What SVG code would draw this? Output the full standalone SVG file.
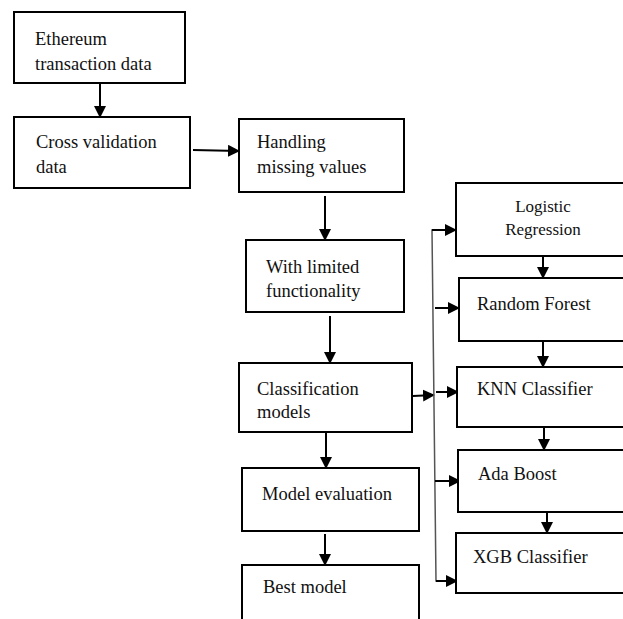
<svg xmlns="http://www.w3.org/2000/svg" width="623" height="619" viewBox="0 0 623 619">
<style>
.box{fill:#fff;stroke:#000;stroke-width:2}
.t{font-family:"Liberation Serif","Times New Roman",serif;font-size:18.5px;fill:#111}
.ts{font-family:"Liberation Serif","Times New Roman",serif;font-size:17px;fill:#111}
.c{stroke:#000;stroke-width:2;fill:none}
.v{stroke:#555;stroke-width:1.5;fill:none}
</style>
<defs>
<marker id="ah" markerUnits="userSpaceOnUse" markerWidth="12" markerHeight="12" refX="11" refY="6" orient="auto">
<path d="M0,0 L12,6 L0,12 z" fill="#000"/>
</marker>
</defs>
<rect width="623" height="619" fill="#fff"/>
<g id="connectors">
<line class="c" x1="100" y1="84" x2="100" y2="117" marker-end="url(#ah)"/>
<line class="c" x1="193" y1="150" x2="239" y2="151" marker-end="url(#ah)"/>
<line class="c" x1="325" y1="196" x2="325" y2="240" marker-end="url(#ah)"/>
<line class="c" x1="330" y1="316" x2="330" y2="363" marker-end="url(#ah)"/>
<line class="c" x1="326" y1="433" x2="326" y2="468" marker-end="url(#ah)"/>
<line class="c" x1="325" y1="534" x2="325" y2="565" marker-end="url(#ah)"/>
<line class="c" x1="413" y1="396" x2="434" y2="395" marker-end="url(#ah)"/>
<polyline class="v" points="456,230 432,230 436,581 457,581"/>
<line class="c" x1="432" y1="230" x2="456" y2="230" marker-end="url(#ah)"/>
<line class="c" x1="435" y1="308" x2="459" y2="308" marker-end="url(#ah)"/>
<line class="c" x1="436" y1="392" x2="458" y2="392" marker-end="url(#ah)"/>
<line class="c" x1="435" y1="481" x2="460" y2="481" marker-end="url(#ah)"/>
<line class="c" x1="436" y1="581" x2="457" y2="581" marker-end="url(#ah)"/>
<line class="c" x1="543" y1="257" x2="543" y2="278" marker-end="url(#ah)"/>
<line class="c" x1="543" y1="342" x2="543" y2="367" marker-end="url(#ah)"/>
<line class="c" x1="544" y1="428" x2="544" y2="450" marker-end="url(#ah)"/>
<line class="c" x1="547" y1="513" x2="547" y2="533" marker-end="url(#ah)"/>
</g>
<g id="n1"><rect class="box" x="14" y="12" width="171" height="71"/><text class="t" x="35" y="45">Ethereum</text><text class="t" x="35" y="70">transaction data</text></g>
<g id="n2"><rect class="box" x="14" y="117" width="176" height="71"/><text class="t" x="36" y="148">Cross validation</text><text class="t" x="36" y="173">data</text></g>
<g id="n3"><rect class="box" x="239" y="119" width="165" height="73"/><text class="t" x="257" y="148">Handling</text><text class="t" x="257" y="173">missing values</text></g>
<g id="n4"><rect class="box" x="246" y="240" width="158" height="72"/><text class="t" x="266" y="273">With limited</text><text class="t" x="266" y="297">functionality</text></g>
<g id="n5"><rect class="box" x="239" y="363" width="173" height="69"/><text class="t" x="257" y="395">Classification</text><text class="t" x="257" y="418">models</text></g>
<g id="n6"><rect class="box" x="242" y="468" width="177" height="63"/><text class="t" x="262" y="500">Model evaluation</text></g>
<g id="n7"><rect class="box" x="242" y="565" width="177" height="70"/><text class="t" x="263" y="593">Best model</text></g>
<g id="n8"><rect class="box" x="456" y="183" width="180" height="73"/><text class="ts" x="543" y="212" text-anchor="middle">Logistic</text><text class="ts" x="543" y="235" text-anchor="middle">Regression</text></g>
<g id="n9"><rect class="box" x="459" y="278" width="180" height="63"/><text class="t" x="477" y="310">Random Forest</text></g>
<g id="n10"><rect class="box" x="457" y="367" width="180" height="60"/><text class="t" x="477" y="395">KNN Classifier</text></g>
<g id="n11"><rect class="box" x="458" y="450" width="180" height="62"/><text class="t" x="478" y="480">Ada Boost</text></g>
<g id="n12"><rect class="box" x="456" y="533" width="180" height="60"/><text class="t" x="473" y="563">XGB Classifier</text></g>
</svg>
